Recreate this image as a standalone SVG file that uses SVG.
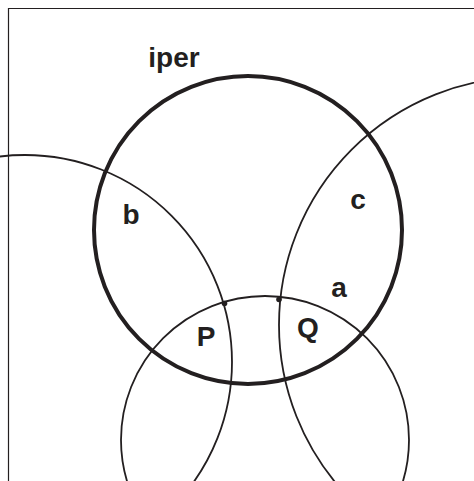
<svg xmlns="http://www.w3.org/2000/svg" width="474" height="481" viewBox="0 0 474 481">
<style>
.frame{fill:none;stroke:#231f20;stroke-width:1.2}
.thin{fill:none;stroke:#231f20;stroke-width:1.8}
.thick{fill:none;stroke:#231f20;stroke-width:4}
.dot{fill:#231f20}
.lbl{font-family:"Liberation Sans",Arial,sans-serif;font-weight:bold;font-size:28px;fill:#231f20;text-anchor:middle}
</style>
<rect width="474" height="481" fill="#fff"/>
<path class="frame" d="M8.5,481 V8.5 H474"/>
<g id="circles">
<circle id="circle-b" class="thin" cx="25" cy="362" r="207"/>
<circle id="circle-c" class="thin" cx="527" cy="325" r="248"/>
<circle id="circle-a" class="thin" cx="265" cy="440" r="144"/>
<circle id="circle-iper" class="thick" cx="248" cy="230" r="154"/>
</g>
<g id="points">
<circle class="dot" cx="224.5" cy="303.5" r="2.8"/>
<circle class="dot" cx="279" cy="299.5" r="2.8"/>
</g>
<g id="labels">
<text class="lbl" x="174" y="67">iper</text>
<text class="lbl" x="131" y="224">b</text>
<text class="lbl" x="358" y="209">c</text>
<text class="lbl" x="339" y="297">a</text>
<text class="lbl" x="206" y="346">P</text>
<text class="lbl" x="308" y="337">Q</text>
</g>
</svg>
